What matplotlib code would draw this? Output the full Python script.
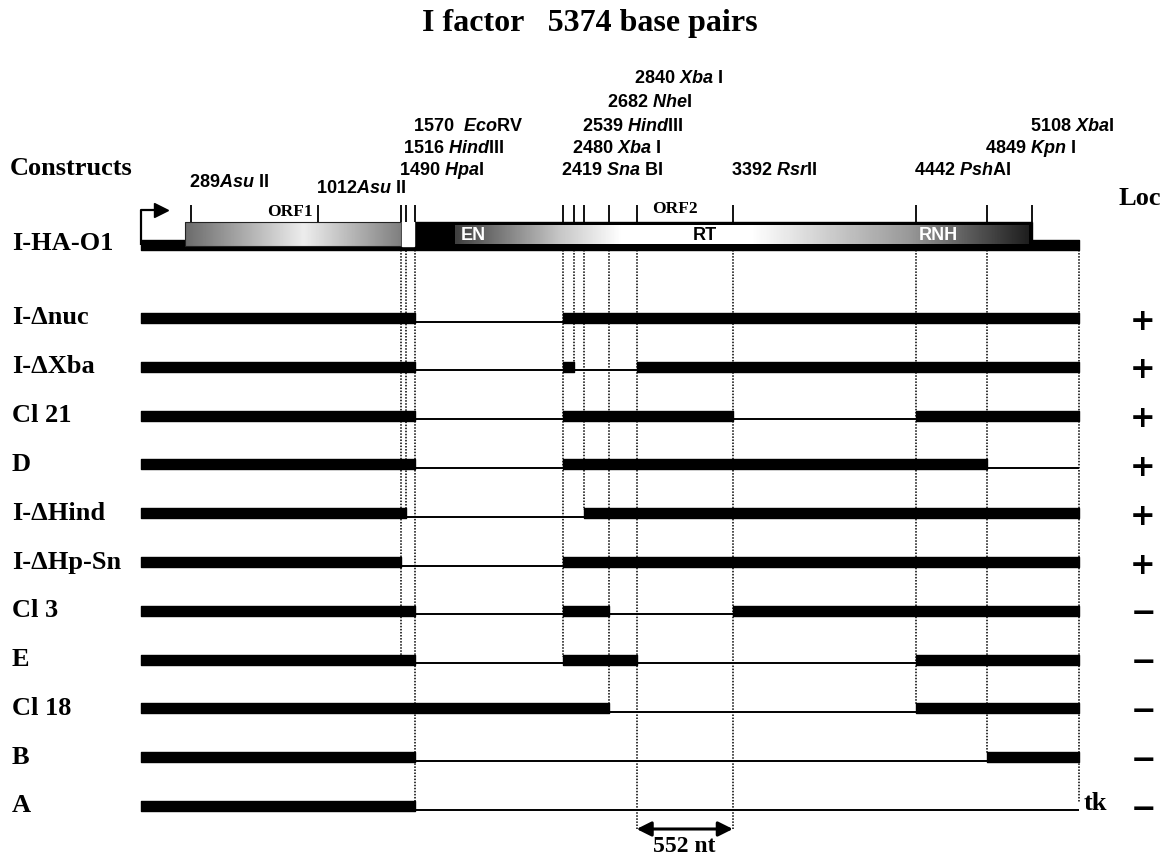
import numpy as np
import matplotlib.pyplot as plt
from matplotlib.patches import Rectangle

plt.rcParams['mathtext.fontset'] = 'custom'
plt.rcParams['mathtext.rm'] = 'Liberation Sans:bold'
plt.rcParams['mathtext.it'] = 'Liberation Sans:bold:italic'
plt.rcParams['mathtext.bf'] = 'Liberation Sans:bold'

# I factor map (bp)
genome_len = 5374
site_bp = [289, 1012, 1490, 1516, 1570, 2419, 2480, 2539, 2682, 2840, 3392, 4442, 4849, 5108]
site_enz = ['Asu', 'Asu', 'Hpa', 'Hind', 'Eco', 'Sna', 'Xba', 'Hind', 'Nhe', 'Xba', 'Rsr', 'Psh', 'Kpn', 'Xba']
site_suffix = [' II', ' II', 'I', 'III', 'RV', ' BI', ' I', 'III', 'I', ' I', 'II', 'AI', ' I', 'I']
site_space = ['', '', ' ', ' ', '  ', ' ', ' ', ' ', ' ', ' ', ' ', ' ', ' ', ' ']

orf1 = (255, 1490)
orf2 = (1570, 5108)

constructs = ['I-Δnuc', 'I-ΔXba', 'Cl 21', 'D', 'I-ΔHind', 'I-ΔHp-Sn',
              'Cl 3', 'E', 'Cl 18', 'B', 'A']
kept = [
    [(0, 1570), (2419, 5374)],
    [(0, 1570), (2419, 2480), (2840, 5374)],
    [(0, 1570), (2419, 3392), (4442, 5374)],
    [(0, 1570), (2419, 4849)],
    [(0, 1516), (2539, 5374)],
    [(0, 1490), (2419, 5374)],
    [(0, 1570), (2419, 2682), (3392, 5374)],
    [(0, 1570), (2419, 2840), (4442, 5374)],
    [(0, 2682), (4442, 5374)],
    [(0, 1570), (4849, 5374)],
    [(0, 1570)],
]
loc = ['+', '+', '+', '+', '+', '+', '−', '−', '−', '−', '−']

# dotted guide from the map down to a construct row
guides = {1490: 'E', 1516: 'I-ΔHind', 1570: 'A', 2419: 'E', 2480: 'I-ΔXba',
          2539: 'I-ΔHind', 2682: 'Cl 18', 4442: 'Cl 18', 4849: 'B', 5374: 'A'}
span = (2840, 3392)

# layout (pixels, y down)
PX = 0.1745
X0 = 141
W, H = 1172, 857
map_y = 245
row_y0, row_step = 318, 48.8
label_y = [182, 188, 170, 148, 126, 170, 148, 126, 102, 78, 170, 170, 148, 126]
serif = 'Liberation Serif'
sans = 'Liberation Sans'

fig = plt.figure(figsize=(W / 100, H / 100), dpi=100)
ax = fig.add_axes([0, 0, 1, 1])
ax.set_axis_off()

def bar(y, ranges):
    ax.broken_barh([(a, b - a) for a, b in ranges], (y - 5, 10), color='black', zorder=3)

# --- full-length map ---
bar(map_y, [(0, genome_len)])
# promoter arrow
ax.plot([0, 0, 95], [map_y, 210, 210], color='black', lw=1.6, zorder=4, solid_capstyle='butt')
ax.plot([112], [210], marker='>', color='black', markersize=10, zorder=4)

g = np.linspace(0, 1, 300)
shade1 = np.interp(g, [0, 0.55, 1], [0.42, 0.93, 0.5])
ax.imshow(shade1[None, :], cmap='gray', vmin=0, vmax=1, aspect='auto',
          extent=(orf1[0], orf1[1], 246, 222), zorder=4)
ax.add_patch(Rectangle((orf1[0], 222), orf1[1] - orf1[0], 24, fill=False,
                       edgecolor='#222222', lw=0.8, zorder=5))

ax.add_patch(Rectangle((orf2[0], 222), orf2[1] - orf2[0], 25, color='black', zorder=4))
bp2 = np.linspace(1800, 5085, 400)
shade2 = np.interp(bp2, [1800, 2400, 2750, 3500, 4400, 5085], [0.25, 0.78, 1.0, 1.0, 0.6, 0.12])
ax.imshow(shade2[None, :], cmap='gray', vmin=0, vmax=1, aspect='auto',
          extent=(1800, 5085, 244, 225), zorder=5)
ax.add_patch(Rectangle((orf1[1] + 8, 222), orf2[0] - orf1[1] - 14, 24, color='white', zorder=5))

ax.text(855, 212, 'ORF1', family=serif, weight='bold', fontsize=12.5, ha='center', va='center')
ax.text(3060, 209, 'ORF2', family=serif, weight='bold', fontsize=12.5, ha='center', va='center')
ax.text(1903, 235, 'EN', family=sans, weight='bold', fontsize=13, color='white',
        ha='center', va='center', zorder=6)
ax.text(3232, 235, 'RT', family=sans, weight='bold', fontsize=13, color='black',
        ha='center', va='center', zorder=6)
ax.text(4567, 235, 'RNH', family=sans, weight='bold', fontsize=13, color='white',
        ha='center', va='center', zorder=6)

# restriction sites
ax.vlines(site_bp, 205, 222, color='black', lw=1.3, zorder=5)
for bp, enz, suf, sp, ly in zip(site_bp, site_enz, site_suffix, site_space, label_y):
    lab = r'$\mathrm{%s}%s\mathit{%s}\mathrm{%s}$' % (
        bp, sp.replace(' ', r'\ '), enz, suf.replace(' ', r'\ '))
    ax.text(bp - 12, ly, lab, fontsize=13, ha='left', va='center')

# --- deletion constructs ---
row_y = {name: row_y0 + i * row_step for i, name in enumerate(constructs)}
for name, ranges, sign in zip(constructs, kept, loc):
    y = row_y[name]
    ax.hlines(y + 3.5, 0, genome_len, color='black', lw=1.4, zorder=3)
    bar(y, ranges)
    ax.text(12 / W, y, name, transform=ax.get_yaxis_transform(), family=serif,
            weight='bold', fontsize=19, ha='left', va='center')
    ax.text(1143 / W, y + 3, sign, transform=ax.get_yaxis_transform(), family='DejaVu Sans',
            weight='bold', fontsize=22, ha='center', va='center')

arrow_y = 829
for bp, name in guides.items():
    top = 226 if bp == 1516 else 250
    ax.vlines(bp, top, row_y[name] - 3, color='black', lw=1.1,
              linestyles=(0, (1, 1)), zorder=2)
for bp in span:
    ax.vlines(bp, 250, arrow_y, color='black', lw=1.1, linestyles=(0, (1, 1)), zorder=2)

ax.annotate('', xy=(span[0], arrow_y), xytext=(span[1], arrow_y),
            arrowprops=dict(arrowstyle='<|-|>', color='black', lw=2.2,
                            mutation_scale=22, shrinkA=0, shrinkB=0))
ax.text(sum(span) / 2, 846, '%d nt' % (span[1] - span[0]), family=serif,
        weight='bold', fontsize=17, ha='center', va='center')

ax.text(1084 / W, row_y['A'] - 3, 'tk', transform=ax.get_yaxis_transform(),
        family=serif, weight='bold', fontsize=19, ha='left', va='center')

# headers
ax.text(10 / W, 168, 'Constructs', transform=ax.get_yaxis_transform(), family=serif,
        weight='bold', fontsize=19, ha='left', va='center')
ax.text(12 / W, map_y - 2, 'I-HA-O1', transform=ax.get_yaxis_transform(), family=serif,
        weight='bold', fontsize=19, ha='left', va='center')
ax.text(1140 / W, 198, 'Loc', transform=ax.get_yaxis_transform(), family=serif,
        weight='bold', fontsize=19, ha='center', va='center')
fig.text(590 / W, 1 - 24 / H, 'I factor   %d base pairs' % genome_len, family=serif,
         weight='bold', fontsize=23, ha='center', va='center')

ax.set_xlim(-X0 / PX, (W - X0) / PX)
ax.set_ylim(H, 0)
fig.savefig('out.png', dpi=100)
